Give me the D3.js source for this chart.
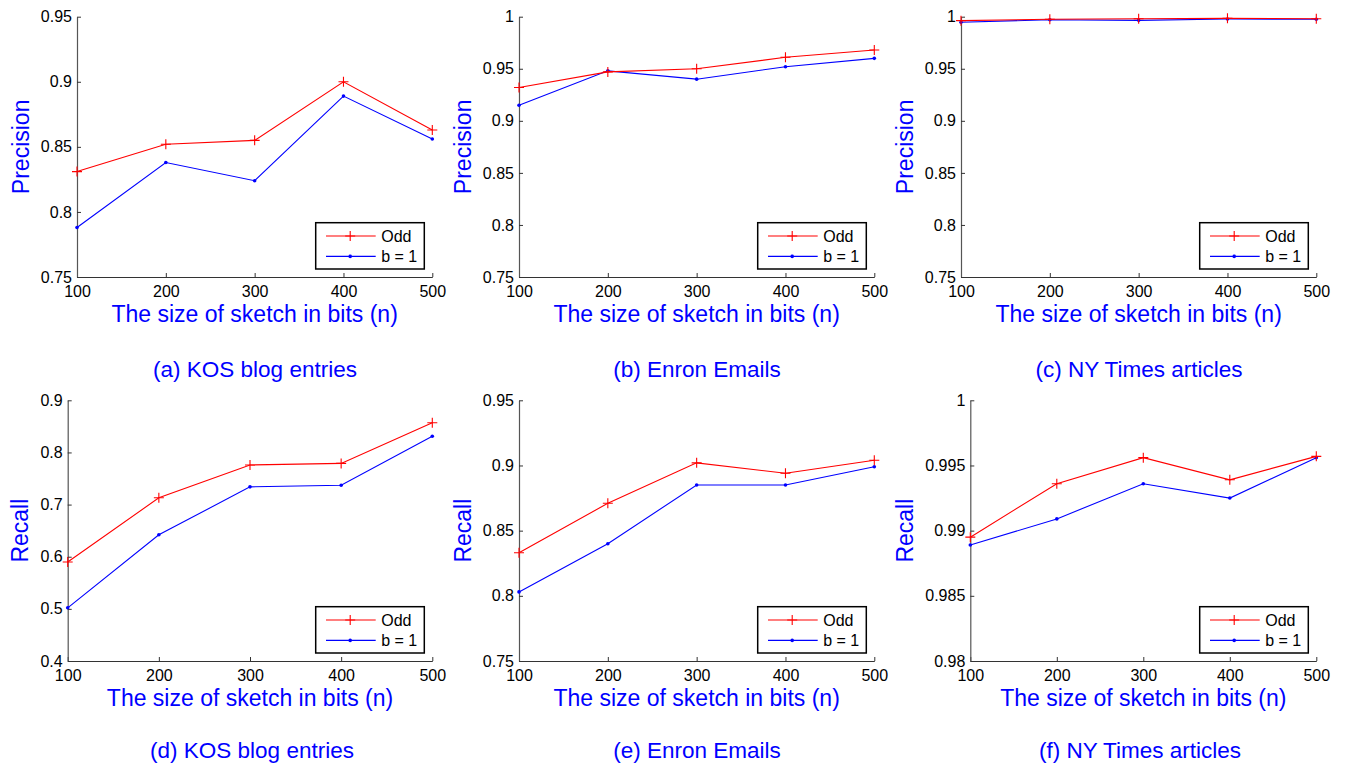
<!DOCTYPE html>
<html>
<head>
<meta charset="utf-8">
<script src="https://cdn.jsdelivr.net/npm/d3@7"></script>
<style>
  html, body { margin: 0; padding: 0; background: #fff; }
  svg { display: block; font-family: "Liberation Sans", Arial, sans-serif; }
</style>
</head>
<body>
<svg id="chart" width="1349" height="769"></svg>
<script>
// ---------------- DATA ----------------
const sketchSizes = [100, 200, 300, 400, 500];
const xTickLabels = ["100", "200", "300", "400", "500"];
const seriesNames = ["Odd", "b = 1"];
const xAxisTitle = "The size of sketch in bits (n)";

const captions = ["(a) KOS blog entries", "(b) Enron Emails", "(c) NY Times articles",
                  "(d) KOS blog entries", "(e) Enron Emails", "(f) NY Times articles"];
const yTitles = ["Precision", "Precision", "Precision", "Recall", "Recall", "Recall"];

// Precision
const kosPrecisionOdd  = [0.831, 0.852, 0.855, 0.900, 0.863];
const kosPrecisionB1   = [0.788, 0.838, 0.824, 0.889, 0.856];
const enronPrecisionOdd = [0.932, 0.947, 0.950, 0.961, 0.968];
const enronPrecisionB1  = [0.915, 0.948, 0.940, 0.952, 0.960];
const nytPrecisionOdd   = [0.9962, 0.9975, 0.9980, 0.9984, 0.9980];
const nytPrecisionB1    = [0.9946, 0.9971, 0.9965, 0.9978, 0.9975];
// Recall
const kosRecallOdd   = [0.590, 0.713, 0.776, 0.779, 0.857];
const kosRecallB1    = [0.502, 0.642, 0.734, 0.737, 0.831];
const enronRecallOdd = [0.833, 0.871, 0.902, 0.894, 0.904];
const enronRecallB1  = [0.803, 0.840, 0.885, 0.885, 0.899];
const nytRecallOdd   = [0.9895, 0.9936, 0.9956, 0.9939, 0.9957];
const nytRecallB1    = [0.9889, 0.9909, 0.9936, 0.9925, 0.9956];

// y-axis tick values and labels
const yTicksA = [0.75, 0.80, 0.85, 0.90, 0.95];
const yTickLabelsA = ["0.75", "0.8", "0.85", "0.9", "0.95"];
const yTicksB = [0.75, 0.80, 0.85, 0.90, 0.95, 1.0];
const yTickLabelsB = ["0.75", "0.8", "0.85", "0.9", "0.95", "1"];
const yTicksD = [0.4, 0.5, 0.6, 0.7, 0.8, 0.9];
const yTickLabelsD = ["0.4", "0.5", "0.6", "0.7", "0.8", "0.9"];
const yTicksE = [0.75, 0.80, 0.85, 0.90, 0.95];
const yTickLabelsE = ["0.75", "0.8", "0.85", "0.9", "0.95"];
const yTicksF = [0.98, 0.985, 0.99, 0.995, 1.0];
const yTickLabelsF = ["0.98", "0.985", "0.99", "0.995", "1"];

const panelsData = [
  { odd: kosPrecisionOdd,   b1: kosPrecisionB1,   ticks: yTicksA, labels: yTickLabelsA },
  { odd: enronPrecisionOdd, b1: enronPrecisionB1, ticks: yTicksB, labels: yTickLabelsB },
  { odd: nytPrecisionOdd,   b1: nytPrecisionB1,   ticks: yTicksB, labels: yTickLabelsB },
  { odd: kosRecallOdd,      b1: kosRecallB1,      ticks: yTicksD, labels: yTickLabelsD },
  { odd: enronRecallOdd,    b1: enronRecallB1,    ticks: yTicksE, labels: yTickLabelsE },
  { odd: nytRecallOdd,      b1: nytRecallB1,      ticks: yTicksF, labels: yTickLabelsF }
];

// ---------------- LAYOUT ----------------
const layout = [
  { l: 77,    r: 432.3,  t: 16.7,  b: 277, cap: 255,  capY: 377 },
  { l: 519,   r: 874.3,  t: 16.7,  b: 277, cap: 697,  capY: 377 },
  { l: 961,   r: 1316.3, t: 16.7,  b: 277, cap: 1139, capY: 377 },
  { l: 67.7,  r: 432.3,  t: 400.3, b: 661, cap: 252,  capY: 758 },
  { l: 519,   r: 874.3,  t: 400.3, b: 661, cap: 697,  capY: 758 },
  { l: 970.3, r: 1316.3, t: 400.3, b: 661, cap: 1140, capY: 758 }
];

const RED = "#ff0000", BLUE = "#0000ff", LABEL_BLUE = "#0000ff";
const svg = d3.select("#chart");

panelsData.forEach((pd, i) => {
  const L = layout[i];
  const g = svg.append("g");
  const x = d3.scaleLinear().domain([sketchSizes[0], sketchSizes[sketchSizes.length - 1]]).range([L.l, L.r]);
  const y = d3.scaleLinear().domain([pd.ticks[0], pd.ticks[pd.ticks.length - 1]]).range([L.b, L.t]);

  // x axis (ticks point inward)
  const xAxis = d3.axisBottom(x).tickValues(sketchSizes)
    .tickFormat((d, k) => xTickLabels[k]).tickSizeInner(-4).tickSizeOuter(0).tickPadding(9);
  const gx = g.append("g").attr("transform", `translate(0,${L.b})`).call(xAxis);
  gx.select(".domain").attr("stroke", "#333").attr("stroke-width", 1.2);
  gx.selectAll(".tick line").attr("stroke", "#333");
  gx.selectAll(".tick text").attr("font-size", 16).attr("fill", "#000")
    .attr("font-family", "Liberation Sans, Arial, sans-serif");

  // y axis (ticks point inward)
  const yAxis = d3.axisLeft(y).tickValues(pd.ticks)
    .tickFormat((d, k) => pd.labels[k]).tickSizeInner(-4).tickSizeOuter(0).tickPadding(5);
  const gy = g.append("g").attr("transform", `translate(${L.l},0)`).call(yAxis);
  gy.select(".domain").attr("stroke", "#555").attr("stroke-width", 1.2);
  gy.selectAll(".tick line").attr("stroke", "#333");
  gy.selectAll(".tick text").attr("font-size", 16).attr("fill", "#000")
    .attr("font-family", "Liberation Sans, Arial, sans-serif");

  // widest y tick label
  let minX = L.l;
  gy.selectAll(".tick text").each(function () {
    const bb = this.getBBox();
    minX = Math.min(minX, L.l + bb.x);
  });

  // y title
  g.append("text")
    .attr("transform", `translate(${minX - 12},${(L.t + L.b) / 2}) rotate(-90)`)
    .attr("text-anchor", "middle")
    .attr("font-size", 23)
    .attr("fill", LABEL_BLUE)
    .text(yTitles[i]);

  // x title
  g.append("text")
    .attr("x", (L.l + L.r) / 2).attr("y", L.b + 45)
    .attr("text-anchor", "middle").attr("font-size", 23).attr("fill", LABEL_BLUE)
    .text(xAxisTitle);

  // caption
  g.append("text")
    .attr("x", L.cap).attr("y", L.capY)
    .attr("text-anchor", "middle").attr("font-size", 22.5).attr("fill", LABEL_BLUE)
    .text(captions[i]);

  const line = d3.line().x((d, k) => x(sketchSizes[k])).y(d => y(d));

  // b = 1 series
  g.append("path").datum(pd.b1).attr("d", line)
    .attr("fill", "none").attr("stroke", BLUE).attr("stroke-width", 1.1);
  g.selectAll(".dotB").data(pd.b1).enter().append("circle")
    .attr("cx", (d, k) => x(sketchSizes[k])).attr("cy", d => y(d)).attr("r", 1.8).attr("fill", BLUE);

  // Odd series
  g.append("path").datum(pd.odd).attr("d", line)
    .attr("fill", "none").attr("stroke", RED).attr("stroke-width", 1.1);
  const plus = g.selectAll(".plusO").data(pd.odd).enter().append("path")
    .attr("d", (d, k) => {
      const cx = x(sketchSizes[k]), cy = y(d), s = 5;
      return `M${cx - s},${cy}H${cx + s}M${cx},${cy - s}V${cy + s}`;
    })
    .attr("stroke", RED).attr("stroke-width", 1.1).attr("fill", "none");

  // legend
  const lw = 108.6, lh = 46.3;
  const lx = L.r - 8 - lw, ly = L.b - 8 - lh;
  const lg = g.append("g");
  lg.append("rect").attr("x", lx).attr("y", ly).attr("width", lw).attr("height", lh)
    .attr("fill", "#fff").attr("stroke", "#000").attr("stroke-width", 1.5);
  const rows = [{ c: RED, name: seriesNames[0], mk: "plus" }, { c: BLUE, name: seriesNames[1], mk: "dot" }];
  rows.forEach((r, k) => {
    const ry = ly + 13.3 + k * 20.4;
    lg.append("line").attr("x1", lx + 10.3).attr("x2", lx + 60).attr("y1", ry).attr("y2", ry)
      .attr("stroke", r.c).attr("stroke-width", 1.1);
    const mx = lx + 34.5;
    if (r.mk === "plus") {
      lg.append("path").attr("d", `M${mx - 5},${ry}H${mx + 5}M${mx},${ry - 5}V${ry + 5}`)
        .attr("stroke", r.c).attr("stroke-width", 1.1);
    } else {
      lg.append("circle").attr("cx", mx).attr("cy", ry).attr("r", 1.8).attr("fill", r.c);
    }
    lg.append("text").attr("x", lx + 65.5).attr("y", ry + 5.8)
      .attr("font-size", 16).attr("fill", "#000").text(r.name);
  });
});
</script>
</body>
</html>
